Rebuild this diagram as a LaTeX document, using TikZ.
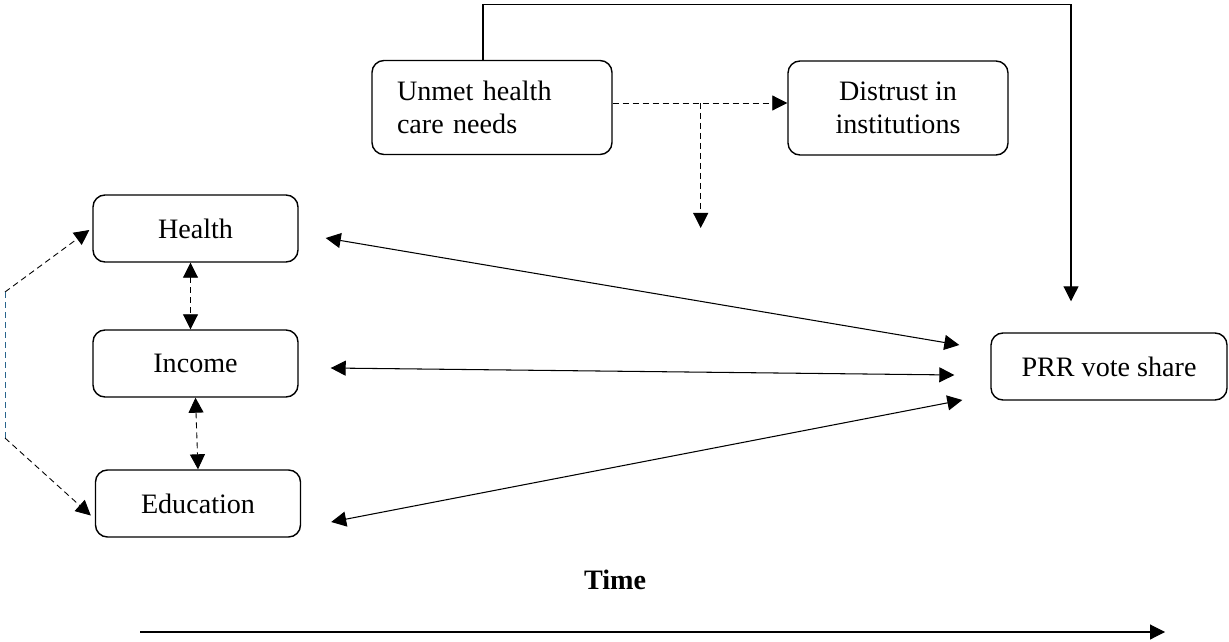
\documentclass[tikz,border=0pt]{standalone}
\usepackage{fontspec}
\setmainfont{Liberation Serif}
\usetikzlibrary{arrows.meta,positioning}
\definecolor{tealline}{RGB}{40,100,140}
\tikzset{%
  >={Triangle[width=3mm,length=3mm]},
  % Specifications for style of nodes:
            base/.style = {rectangle, rounded corners=2.4mm, draw=black,
                           line width=0.8pt, minimum width=4.1cm,
                           minimum height=1.34cm, text centered},
       varbox/.style = {base},
       topbox/.style = {base, minimum height=1.88cm},
       link/.style = {line width=0.6pt},
       dlink/.style = {line width=0.5pt, dash pattern=on 1.2mm off 0.8mm},
}

\begin{document}
\begin{tikzpicture}[x=0.2mm, y=-0.2mm, node distance=2.7cm,
    every node/.style={font=\fontsize{16}{18.5}\selectfont}]
  \useasboundingbox (0,0) rectangle (1229,642);
  % Specification of nodes (position, etc.)

  \node (unmet)				[topbox, minimum width=4.8cm, text width=3.8cm, align=left, inner xsep=5mm] at (492,107.5) {Unmet health\\care needs};
  \node (distrust)			[topbox, minimum width=4.4cm, align=center] at (898,108) {Distrust in\\institutions};
  \node (health)			[varbox] at (195.5,228.5) {Health};
  \node (income)			[varbox, below of=health] {Income};
  \node (education)			[varbox, below of=income, xshift=0.5mm, yshift=-1mm] {Education};
  \node (prr)				[varbox, minimum width=4.72cm] at (1109,366.5) {PRR vote share};
  \node (time)				at (615,580) {\textbf{Time}};
  \coordinate (bendtop)		at (5,292);
  \coordinate (bendbot)		at (5,438);
  \coordinate (tstart)		at (140,632);
  \coordinate (tend)		at (1165,632);

  \draw[link, ->]			([xshift=-1.8mm]unmet.north) -- ++(0,-55) -| ([xshift=-7.6mm]prr.north) [shorten >=6.2mm];
  \draw[dlink, ->]			([yshift=0.9mm]unmet.east) -- ([yshift=0.9mm]unmet.east -| distrust.west);
  \draw[dlink, ->]			([yshift=0.9mm,xshift=17.6mm]unmet.east) -- ++(0,125);

  \draw[link, <->]			([shift={(27,9.5)}]health.east) -- ([shift={(-31,-21.5)}]prr.west);
  \draw[link, <->]			([shift={(32,4.5)}]income.east) -- ([shift={(-36,8.5)}]prr.west);
  \draw[link, <->]			([shift={(30,18.5)}]education.east) -- ([shift={(-28,33.5)}]prr.west);

  \draw[dlink, <->]			([xshift=-1mm]health.south) -- ([xshift=-1mm]income.north);
  \draw[dlink, <->]			(income.south) -- (education.north);

  \draw[dlink, ->]			(bendtop) -- ([shift={(-3,1.5)}]health.west);
  \draw[dlink, tealline]	(bendtop) -- (bendbot);
  \draw[dlink, ->]			(bendbot) -- ([shift={(-4,12)}]education.west);

  \draw[link, ->]			(tstart) -- (tend);
\end{tikzpicture}
\end{document}
